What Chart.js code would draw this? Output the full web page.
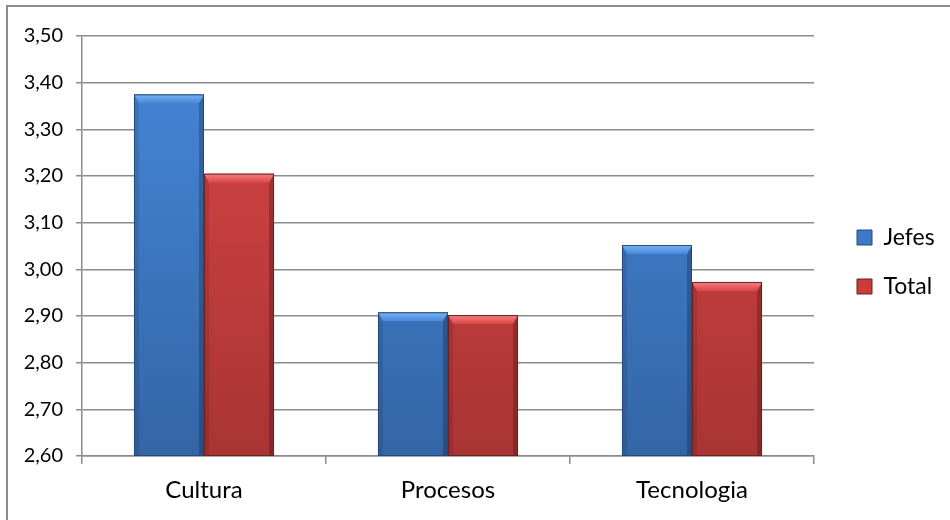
<!DOCTYPE html>
<html>
<head>
<meta charset="utf-8">
<script src="https://cdn.jsdelivr.net/npm/chart.js@4/dist/chart.umd.min.js"></script>
<style>
  html, body { margin: 0; padding: 0; background: #ffffff; overflow: hidden; }
  #frame { position: absolute; left: 6px; top: 5px; width: 1000px; height: 600px;
           border-left: 2px solid #8c8c8c; border-top: 2px solid #8c8c8c; }
  #c { position: absolute; left: 0; top: 0; }
</style>
</head>
<body>
<div id="frame"></div>
<canvas id="c" width="950" height="520"></canvas>
<script>
const categories = ['Cultura', 'Procesos', 'Tecnologia'];
const seriesNames = ['Jefes', 'Total'];
const jefes = [3.375, 2.908, 3.052];
const total = [3.205, 2.902, 2.973];
const yMin = 2.6, yMax = 3.5, yStep = 0.1;

const FONT = 'Lato, "Open Sans", sans-serif';

const palette = {
  Jefes: { top: '#4688da', bottom: '#3465a6', light: '#79b3f3', edge: '#244a7c', solid: '#3d79c6' },
  Total: { top: '#da4646', bottom: '#a93434', light: '#f38080', edge: '#6e1f1f', solid: '#c83c3c' }
};

function gradFill(name) {
  return function (ctx) {
    const chart = ctx.chart;
    const area = chart.chartArea;
    const p = palette[name];
    if (!area) return p.solid;
    const g = chart.ctx.createLinearGradient(0, area.top, 0, area.bottom);
    g.addColorStop(0, p.top);
    g.addColorStop(1, p.bottom);
    return g;
  };
}

const bevelPlugin = {
  id: 'bevel',
  afterDatasetsDraw(chart) {
    const ctx = chart.ctx;
    const area = chart.chartArea;
    chart.data.datasets.forEach((ds, di) => {
      const meta = chart.getDatasetMeta(di);
      const p = palette[ds.label];
      meta.data.forEach(el => {
        const { x, y, base, width } = el.getProps(['x', 'y', 'base', 'width'], true);
        const l = x - width / 2, r = x + width / 2, t = y, b = Math.min(base, area.bottom);
        const bt = 9, bs = 5;
        ctx.save();
        ctx.beginPath();
        ctx.rect(area.left, area.top, area.right - area.left, area.bottom - area.top);
        ctx.clip();
        ctx.fillStyle = 'rgba(0,0,0,0.22)';
        ctx.beginPath();
        ctx.moveTo(r, t); ctx.lineTo(r - bs, t + bt); ctx.lineTo(r - bs, b); ctx.lineTo(r, b); ctx.closePath();
        ctx.fill();
        ctx.fillStyle = 'rgba(0,0,0,0.10)';
        ctx.beginPath();
        ctx.moveTo(l, t); ctx.lineTo(l + bs, t + bt); ctx.lineTo(l + bs, b); ctx.lineTo(l, b); ctx.closePath();
        ctx.fill();
        const g = ctx.createLinearGradient(0, t, 0, t + bt);
        g.addColorStop(0, p.light);
        g.addColorStop(1, p.top);
        ctx.fillStyle = g;
        ctx.beginPath();
        ctx.moveTo(l, t); ctx.lineTo(r, t); ctx.lineTo(r - bs, t + bt); ctx.lineTo(l + bs, t + bt); ctx.closePath();
        ctx.fill();
        ctx.strokeStyle = p.edge;
        ctx.lineWidth = 1;
        ctx.strokeRect(l + 0.5, t + 0.5, width - 1, b - t - 1);
        ctx.restore();
      });
    });
  }
};

const legendFix = {
  id: 'legendFix',
  beforeUpdate(chart) {
    const lg = chart.legend;
    if (lg && !lg._fixed) {
      const f = lg.fit;
      lg.fit = function () { f.call(this); this.width = 136; };
      lg._fixed = true;
    }
  },
  afterLayout(chart) {
    const lg = chart.legend;
    if (lg) { lg.left += 17; lg.right += 17; lg.top -= 16; lg.bottom -= 16; }
  }
};

new Chart(document.getElementById('c'), {
  type: 'bar',
  data: {
    labels: categories,
    datasets: [
      { label: seriesNames[0], data: jefes, backgroundColor: gradFill('Jefes'), borderWidth: 0 },
      { label: seriesNames[1], data: total, backgroundColor: gradFill('Total'), borderWidth: 0 }
    ]
  },
  options: {
    responsive: false,
    animation: false,
    devicePixelRatio: 1,
    layout: { padding: { top: 36, left: 0, right: 0, bottom: 0 } },
    datasets: { bar: { categoryPercentage: 0.574, barPercentage: 1.0 } },
    plugins: {
      tooltip: { enabled: false },
      legend: {
        position: 'right',
        labels: {
          color: '#000000',
          font: { family: FONT, size: 23 },
          boxWidth: 15,
          boxHeight: 15,
          padding: 26,
          generateLabels(chart) {
            return chart.data.datasets.map((ds, i) => ({
              text: ds.label,
              fillStyle: palette[ds.label].solid,
              strokeStyle: palette[ds.label].edge,
              lineWidth: 1,
              hidden: false,
              datasetIndex: i
            }));
          }
        }
      }
    },
    scales: {
      x: {
        afterFit(scale) { scale.height = 64; },
        grid: { display: true, drawOnChartArea: false, drawTicks: true, tickLength: 8, offset: true, color: '#8c8c8c', lineWidth: 1.5 },
        border: { color: '#8c8c8c', width: 1.5 },
        ticks: { color: '#000000', font: { family: FONT, size: 24 }, padding: 12 }
      },
      y: {
        min: yMin,
        max: yMax,
        afterFit(scale) { scale.width = 82; },
        grid: { color: '#8c8c8c', lineWidth: 1.5, tickLength: 6 },
        border: { color: '#8c8c8c', width: 1.5 },
        ticks: {
          stepSize: yStep,
          color: '#000000',
          font: { family: FONT, size: 20 },
          padding: 13,
          callback: v => Number(v).toFixed(2).replace('.', ',')
        }
      }
    }
  },
  plugins: [bevelPlugin, legendFix]
});
</script>
</body>
</html>
